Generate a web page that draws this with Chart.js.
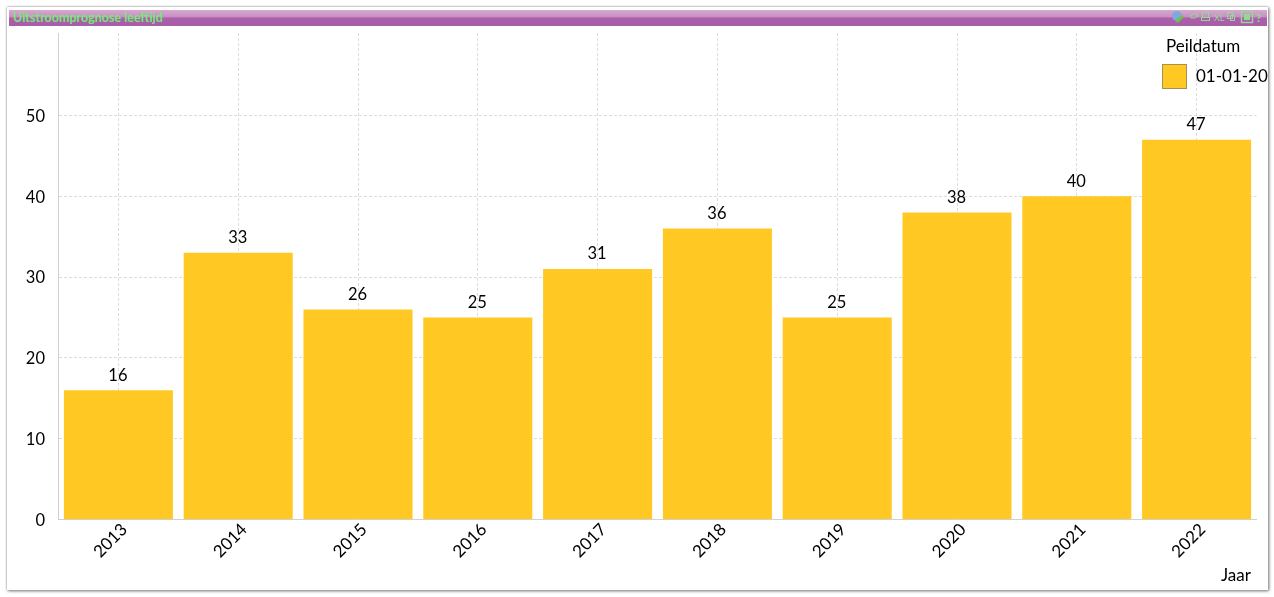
<!DOCTYPE html>
<html><head><meta charset="utf-8">
<script src="https://cdn.jsdelivr.net/npm/chart.js@4/dist/chart.umd.js"></script>
<style>
html,body{margin:0;padding:0;background:#fff;width:1274px;height:597px;overflow:hidden}
#panel{position:absolute;left:7px;top:7px;width:1261px;height:583px;background:#fff;box-shadow:0 0 2px #999,1px 1px 3px #777;overflow:hidden}
#bar{position:absolute;left:2px;top:3px;width:1258px;height:16px;background:linear-gradient(#d6a8d1 0,#c98fc3 42%,#ab60aa 50%,#a95ca8 100%)}
#bar span{position:absolute;left:4px;top:0px;font:bold 12.5px Lato,sans-serif;color:#72ea74;white-space:nowrap;line-height:15px}
#icons{position:absolute;left:1163px;top:0;width:95px;height:16px}
#c{position:absolute;left:0;top:0}
.t{position:absolute;font:17px Lato,sans-serif;color:#000;white-space:nowrap;line-height:20px}
#sw{position:absolute;left:1162px;top:64px;width:23px;height:23px;background:#ffc822;border:1px solid #a8904e}
#clip{position:absolute;left:0;top:0;width:1268px;height:590px;overflow:hidden}
</style></head><body>
<div id="panel"><div id="bar"><span id="ttl"></span>
<svg id="icons" viewBox="0 0 95 16">
 <circle cx="5" cy="6" r="5" fill="#7fa8dc"/><path d="M3 11l7-6 2 2-6 6z" fill="#6cc04a"/>
 <g fill="none" stroke="#8fdc90" stroke-width="1">
  <path d="M18 6l3-2h4l1 2-3 2h-4z"/>
  <rect x="30.5" y="2.5" width="6" height="5"/><rect x="29.5" y="7.5" width="8" height="3"/>
  <rect x="55.5" y="2.5" width="5" height="6"/><rect x="58.5" y="5.5" width="4" height="5"/>
  <rect x="69.5" y="1.5" width="11" height="11" stroke-width="1.4"/><rect x="72.5" y="4.5" width="5" height="5" fill="#8fdc90"/>
 </g>
 <text x="42" y="11" font-family="Lato" font-size="9" fill="#8fdc90">XL</text>
 <text x="84" y="11.5" font-family="Lato" font-weight="bold" font-size="12" fill="#8fdc90">?</text>
</svg></div></div>
<canvas id="c" width="1274" height="597"></canvas>
<div id="clip">
<div class="t" id="lt" style="left:1166px;top:36px"></div>
<div id="sw"></div>
<div class="t" id="ll" style="left:1196px;top:66px"></div>
<div class="t" id="xt" style="left:1221px;top:565px"></div>
</div>
<script>
const chartTitle = "Uitstroomprognose leeftijd";
const legendTitle = "Peildatum";
const seriesName = "01-01-20";
const xAxisTitle = "Jaar";
const categories = ["2013","2014","2015","2016","2017","2018","2019","2020","2021","2022"];
const values = [16,33,26,25,31,36,25,38,40,47];
const barColor = "#ffc822";

document.getElementById('ttl').textContent = chartTitle;
document.getElementById('lt').textContent = legendTitle;
document.getElementById('ll').textContent = seriesName;
document.getElementById('xt').textContent = xAxisTitle;

const valueLabels = {
  id:'valueLabels',
  afterDatasetsDraw(chart){
    const ctx = chart.ctx, meta = chart.getDatasetMeta(0);
    ctx.save();
    ctx.font = '16.5px Lato, sans-serif';
    ctx.fillStyle = '#000';
    ctx.textAlign = 'center';
    ctx.textBaseline = 'alphabetic';
    meta.data.forEach((el,i)=>ctx.fillText(String(values[i]), el.x-0.5, el.y-9.5));
    ctx.restore();
  }
};

new Chart(document.getElementById('c'),{
  type:'bar',
  data:{labels:categories,datasets:[{label:seriesName,data:values,backgroundColor:barColor,borderWidth:0,categoryPercentage:1,barPercentage:0.91}]},
  plugins:[valueLabels],
  options:{
    responsive:false,animation:false,
    layout:{padding:{left:0,right:17.5,top:33,bottom:0}},
    plugins:{legend:{display:false},tooltip:{enabled:false},title:{display:false}},
    scales:{
      x:{
        offset:true,
        afterFit(s){s.height=77.5;},
        grid:{offset:false,color:'#dcdcdc',lineWidth:1,tickLength:0,drawTicks:false},
        border:{color:'#d0d0d0',dash:[3,2]},
        ticks:{color:'#000',font:{family:'Lato',size:17},minRotation:45,maxRotation:45,padding:0,labelOffset:6,autoSkip:false}
      },
      y:{
        min:0,max:60.2,
        afterFit(s){s.width=58.5;},
        afterBuildTicks(s){s.ticks=[0,10,20,30,40,50].map(v=>({value:v}));},
        grid:{color:'#dcdcdc',lineWidth:1,tickLength:0,drawTicks:false},
        border:{color:'#d0d0d0',dash:[3,2]},
        ticks:{color:'#000',font:{family:'Lato',size:16.5},padding:13.5,labelOffset:1}
      }
    }
  }
});
</script>
</body></html>
